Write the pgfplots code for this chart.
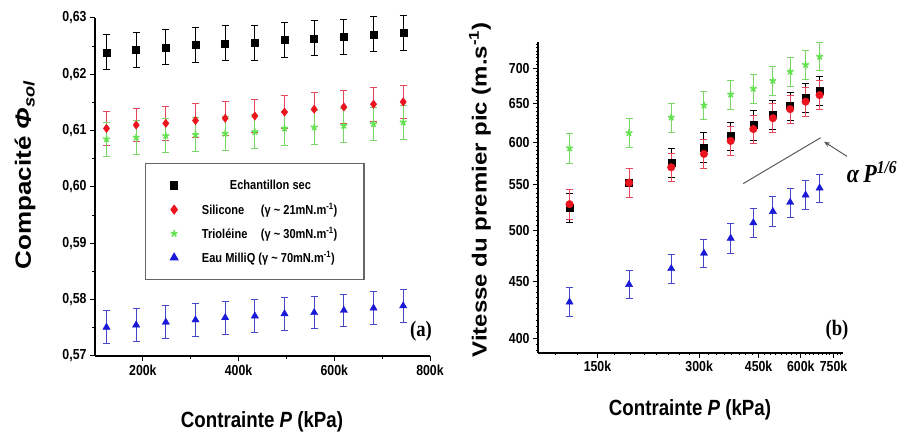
\documentclass[border=0pt]{standalone}
\usepackage{fontspec}
\setmainfont{Liberation Sans}
\newfontfamily\nsans[FakeStretch=0.85]{Liberation Sans}
\newfontfamily\nserif[FakeStretch=0.85]{Liberation Serif}
\usepackage{graphicx}
\usepackage{pgfplots}
\usepackage{pgfplotstable}
\pgfplotsset{compat=1.18}
\usetikzlibrary{arrows.meta}

\definecolor{cblack}{RGB}{0,0,0}
\definecolor{cred}{RGB}{235,20,30}
\definecolor{credbar}{RGB}{230,70,90}
\definecolor{cgreen}{RGB}{100,225,80}
\definecolor{cgreenbar}{RGB}{120,215,100}
\definecolor{cblue}{RGB}{25,25,215}
\definecolor{cbluebar}{RGB}{70,70,200}

\pgfplotsset{
  myleg/.style={legend image code/.code={\node[inner sep=0pt, minimum width=24pt, minimum height=6pt, draw=none, fill=none] at (12pt,0pt) {}; \draw[##1, mark repeat=1] plot coordinates {(16pt,0pt)};}},
  ebars/.style={error bars/.cd, y dir=both, y explicit,
     error bar style={line width=1pt, #1},
     error mark options={rotate=90, mark size=3.5pt, line width=1pt, #1}},
  panel/.style={scale only axis, anchor=south west,
     axis lines=left, axis line style={-, line width=1.2pt},
     tick align=outside, major tick length=5pt, minor tick length=3pt,
     every tick/.style={line width=1pt, black},
     tick label style={font=\nsans\bfseries\fontsize{14.5}{16}\selectfont},
     clip=false},
}

% left panel data (P in kPa, compacity)
\pgfplotstableread{
x    blk     red     grn     blu
124  0.6239  0.6104  0.6085  0.5751
186  0.6244  0.6110  0.6088  0.5755
248  0.6248  0.6113  0.6091  0.5760
310  0.6252  0.6118  0.6093  0.5764
372  0.6255  0.6122  0.6095  0.5768
434  0.6256  0.6126  0.6098  0.5771
496  0.6261  0.6133  0.6104  0.5775
558  0.6264  0.6138  0.6106  0.5777
620  0.6267  0.6142  0.6109  0.5781
682  0.6271  0.6147  0.6112  0.5785
744  0.6274  0.6151  0.6115  0.5789
}\lefttab

% right panel data (P in kPa, velocity m/s, error)
\pgfplotstableread{
x    grn  eg  blk  eb  red  er  blu  eu
124  593  18  524  16  528  16  431  13
186  612  18  552  17  552  17  447  13
248  632  19  575  17  570  17  462  14
310  648  19  594  18  586  18  477  14
372  663  20  608  18  602  18  492  15
434  671  20  622  19  617  18  508  15
496  682  20  636  19  631  19  520  16
558  695  21  647  19  643  19  530  16
620  705  21  658  20  653  20  538  16
682  717  21  668  20  662  20  546  16
}\righttab

\begin{document}
\begin{tikzpicture}[x=1pt,y=1pt]
\useasboundingbox (0,0) rectangle (901,435);

\begin{axis}[panel, at={(95pt,79pt)}, width=335pt, height=338pt,
  xmin=100, xmax=800, ymin=0.57, ymax=0.63,
  xtick={200,400,600,800}, xticklabels={200k,400k,600k,800k},
  minor x tick num=1,
  ytick={0.57,0.58,0.59,0.60,0.61,0.62,0.63},
  yticklabels={{0,57},{0,58},{0,59},{0,60},{0,61},{0,62},{0,63}},
  minor y tick num=1,
  legend cell align=left,
  legend style={at={(0.149,0.571)}, anchor=north west, draw=gray!80!black,
     line width=1.2pt, fill=white, inner xsep=25pt, inner ysep=10pt,
     font=\nsans\bfseries\fontsize{13}{15}\selectfont,
     nodes={inner sep=0pt, minimum height=24pt}, column sep=7pt},
]
\addplot[only marks, mark=square*, mark size=3.5pt, cblack, myleg,
  ebars={cblack}] table[x=x, y=blk, y error expr=0.0031] {\lefttab};
\addlegendentry{\makebox[137pt][c]{Echantillon sec}}
\addplot[only marks, mark=diamond*, mark size=4.2pt, cred, myleg,
  ebars={credbar}] table[x=x, y=red, y error expr=0.003] {\lefttab};
\addlegendentry{\makebox[137pt][l]{\makebox[59pt][l]{Silicone}(γ \textasciitilde\ 21mN.m\textsuperscript{-1})}}
\addplot[only marks, mark=star, mark size=3.5pt, line width=1.6pt, cgreen, myleg,
  ebars={cgreenbar}] table[x=x, y=grn, y error expr=0.003] {\lefttab};
\addlegendentry{\makebox[137pt][l]{\makebox[59pt][l]{Trioléine}(γ \textasciitilde\ 30mN.m\textsuperscript{-1})}}
\addplot[only marks, mark=triangle*, mark size=4.2pt, cblue, myleg,
  ebars={cbluebar}] table[x=x, y=blu, y error expr=0.0029] {\lefttab};
\addlegendentry{\makebox[137pt][l]{Eau MilliQ (γ \textasciitilde\ 70mN.m\textsuperscript{-1})}}
\end{axis}

\begin{axis}[panel, at={(538pt,82pt)}, width=305pt, height=311pt,
  xmode=log, ymode=log,
  xmin=100, xmax=800, ymin=388, ymax=739,
  xtick={150,300,450,600,750}, xticklabels={150k,300k,450k,600k,750k},
  minor xtick={112.5,131.25,...,787.5},
  ytick={400,450,500,550,600,650,700},
  yticklabels={400,450,500,550,600,650,700},
  minor ytick={390,395,...,735},
  minor tick length=2.5pt,
]
\addplot[only marks, mark=star, mark size=3.5pt, line width=1.6pt, cgreen,
  ebars={cgreenbar}] table[x=x, y=grn, y error=eg] {\righttab};
\addplot[only marks, mark=square*, mark size=3.5pt, cblack,
  ebars={cblack}] table[x=x, y=blk, y error=eb] {\righttab};
\addplot[only marks, mark=*, mark size=3.8pt, cred,
  ebars={credbar}] table[x=x, y=red, y error=er] {\righttab};
\addplot[only marks, mark=triangle*, mark size=4.2pt, cblue,
  ebars={cbluebar}] table[x=x, y=blu, y error=eu] {\righttab};
\addplot[gray!70!black, line width=1pt] coordinates {(405,551) (687,606)};
\draw[-{Stealth[length=6pt,width=5pt]}, gray!70!black, line width=1pt]
  (axis cs:822,583) -- (axis cs:703,601);
\end{axis}

% labels
\node[rotate=90] at (25,260) {\scalebox{1}[0.85]{\bfseries\fontsize{26}{28}\selectfont Compacité \textit{Φ}\textsubscript{\textit{sol}}}};
\node[rotate=90] at (480,245) {\scalebox{1}[0.85]{\bfseries\fontsize{24}{26}\selectfont Vitesse du premier pic (m.s\textsuperscript{-1})}};
\node[anchor=base] at (262,7) {\nsans\bfseries\fontsize{22}{24}\selectfont Contrainte \textit{P} (kPa)};
\node[anchor=base] at (690,19) {\nsans\bfseries\fontsize{22}{24}\selectfont Contrainte \textit{P} (kPa)};
\node[anchor=base] at (421,98) {\nserif\bfseries\fontsize{22}{24}\selectfont (a)};
\node[anchor=base] at (837,99) {\nserif\bfseries\fontsize{22}{24}\selectfont (b)};
\node[anchor=base] at (872,252) {\nserif\bfseries\itshape\fontsize{26}{28}\selectfont α\,P\textsuperscript{1/6}};
\end{tikzpicture}
\end{document}
